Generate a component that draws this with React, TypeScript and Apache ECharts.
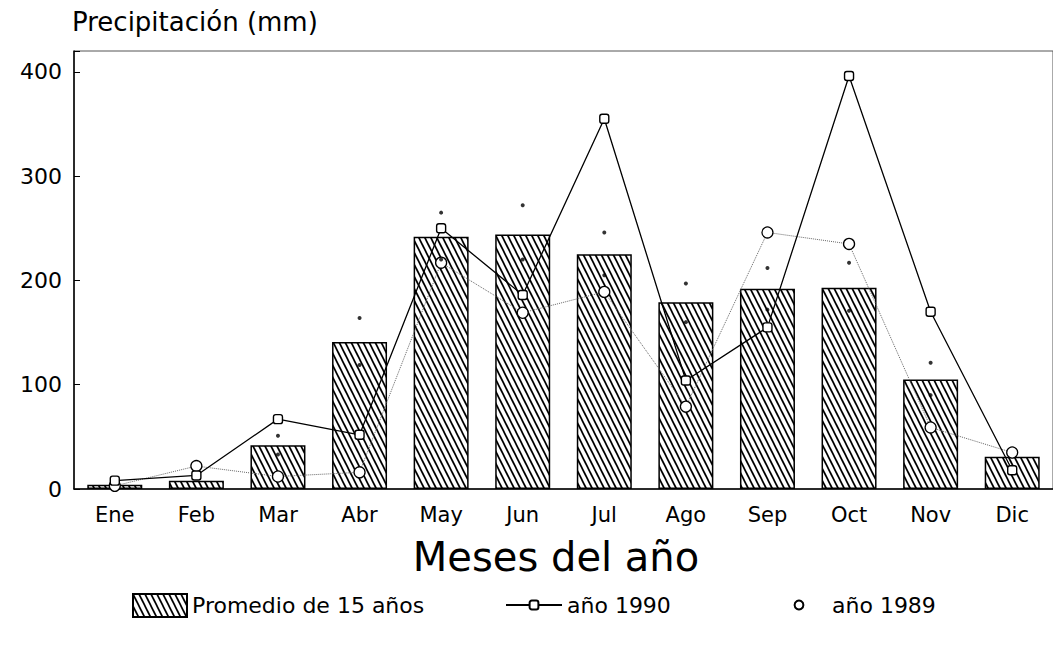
import React, { useEffect, useRef } from "react";
import * as echarts from "echarts";

const months = ["Ene", "Feb", "Mar", "Abr", "May", "Jun", "Jul", "Ago", "Sep", "Oct", "Nov", "Dic"];
const promedio15 = [4, 8, 42, 141, 242, 244, 225, 179, 192, 193, 105, 31];
const anio1990 = [8, 13, 67, 52, 250, 186, 355, 104, 155, 396, 170, 18];
const anio1989 = [3, 22, 12, 16, 217, 169, 189, 79, 246, 235, 59, 35];
const dotsUpper = [null, null, 51, 164, 265, 272, 246, 197, 212, 217, 121, null];
const dotsLower = [null, null, 33, 119, 220, 220, 205, 160, 172, 171, 90, null];
const yTicks = [0, 100, 200, 300, 400];

const FONT = "DejaVu Sans";

function makeHatch(): HTMLCanvasElement {
  const w = 6;
  const h = 12;
  const c = document.createElement("canvas");
  c.width = w;
  c.height = h;
  const ctx = c.getContext("2d")!;
  ctx.fillStyle = "#fff";
  ctx.fillRect(0, 0, w, h);
  ctx.strokeStyle = "#000";
  ctx.lineWidth = 1.7;
  for (let k = -2; k <= 2; k++) {
    ctx.beginPath();
    ctx.moveTo(k * w - w, -h);
    ctx.lineTo(k * w + 2 * w, 2 * h);
    ctx.stroke();
  }
  return c;
}

export default function App() {
  const ref = useRef<HTMLDivElement>(null);
  useEffect(() => {
    if (!ref.current) return;
    const chart = echarts.init(ref.current, null, { renderer: "svg" });
    const hatch = { image: makeHatch(), repeat: "repeat" } as any;
    const legendText = { fontFamily: FONT, fontSize: 22, color: "#000", lineHeight: 22 };
    chart.setOption({
      animation: false,
      backgroundColor: "#fff",
      grid: {
        left: 74,
        top: 51,
        width: 987,
        height: 438,
        show: true,
        borderColor: "#555",
        borderWidth: 1,
        containLabel: false,
      },
      graphic: [
        {
          type: "text",
          x: 72,
          y: 22,
          style: {
            text: "Precipitación (mm)",
            font: `26px "${FONT}"`,
            fill: "#000",
            align: "left",
            verticalAlign: "middle",
          },
        },
        {
          type: "text",
          x: 556,
          y: 557,
          style: {
            text: "Meses del año",
            font: `40px "${FONT}"`,
            fill: "#000",
            align: "center",
            verticalAlign: "middle",
          },
        },
      ],
      legend: [
        {
          data: ["Promedio de 15 años"],
          icon: "rect",
          left: 127,
          top: 588,
          itemWidth: 54,
          itemHeight: 23,
          textStyle: legendText,
          selectedMode: false,
        },
        {
          data: ["año 1990"],
          left: 500,
          top: 589,
          itemWidth: 56,
          itemHeight: 11,
          textStyle: legendText,
          selectedMode: false,
        },
        {
          data: [{ name: "año 1989", lineStyle: { opacity: 0 } }],
          left: 765,
          top: 589,
          itemWidth: 56,
          itemHeight: 11,
          textStyle: legendText,
          selectedMode: false,
        },
      ],
      xAxis: {
        type: "category",
        data: months,
        axisLine: { show: true, lineStyle: { color: "#000", width: 1.5 } },
        axisTick: { show: false },
        axisLabel: { fontFamily: FONT, fontSize: 21, color: "#000", margin: 15 },
        splitLine: { show: false },
      },
      yAxis: {
        type: "value",
        min: 0,
        max: 420,
        interval: 100,
        axisLine: { show: true, lineStyle: { color: "#000", width: 1.5 } },
        axisTick: { show: true, inside: true, length: 6, lineStyle: { color: "#000" } },
        axisLabel: {
          fontFamily: FONT,
          fontSize: 22,
          color: "#000",
          margin: 12,
          formatter: (v: number) => (yTicks.includes(v) ? String(v) : ""),
        },
        splitLine: { show: false },
      },
      series: [
        {
          name: "Promedio de 15 años",
          type: "bar",
          data: promedio15,
          barWidth: 55,
          itemStyle: { color: hatch, borderColor: "#000", borderWidth: 1.5 },
          z: 1,
        },
        {
          name: "año 1990",
          type: "line",
          data: anio1990,
          symbol: "roundRect",
          symbolSize: 9,
          lineStyle: { color: "#000", width: 1.3 },
          itemStyle: { color: "#fff", borderColor: "#000", borderWidth: 1.4 },
          z: 3,
        },
        {
          name: "año 1989",
          type: "line",
          data: anio1989,
          symbol: "circle",
          symbolSize: 11,
          lineStyle: { color: "#666", width: 1, type: "dotted" },
          itemStyle: { color: "#fff", borderColor: "#000", borderWidth: 1.3 },
          z: 2,
        },
        {
          name: "dispersión superior",
          type: "scatter",
          data: dotsUpper,
          symbol: "circle",
          symbolSize: 4,
          itemStyle: { color: "#000" },
          z: 4,
        },
        {
          name: "dispersión inferior",
          type: "scatter",
          data: dotsLower,
          symbol: "circle",
          symbolSize: 4,
          itemStyle: { color: "#000" },
          z: 4,
        },
      ],
    });
    return () => chart.dispose();
  }, []);
  return (
    <div
      ref={ref}
      style={{ position: "fixed", left: 0, top: 0, width: 1053, height: 648, background: "#fff" }}
    />
  );
}
